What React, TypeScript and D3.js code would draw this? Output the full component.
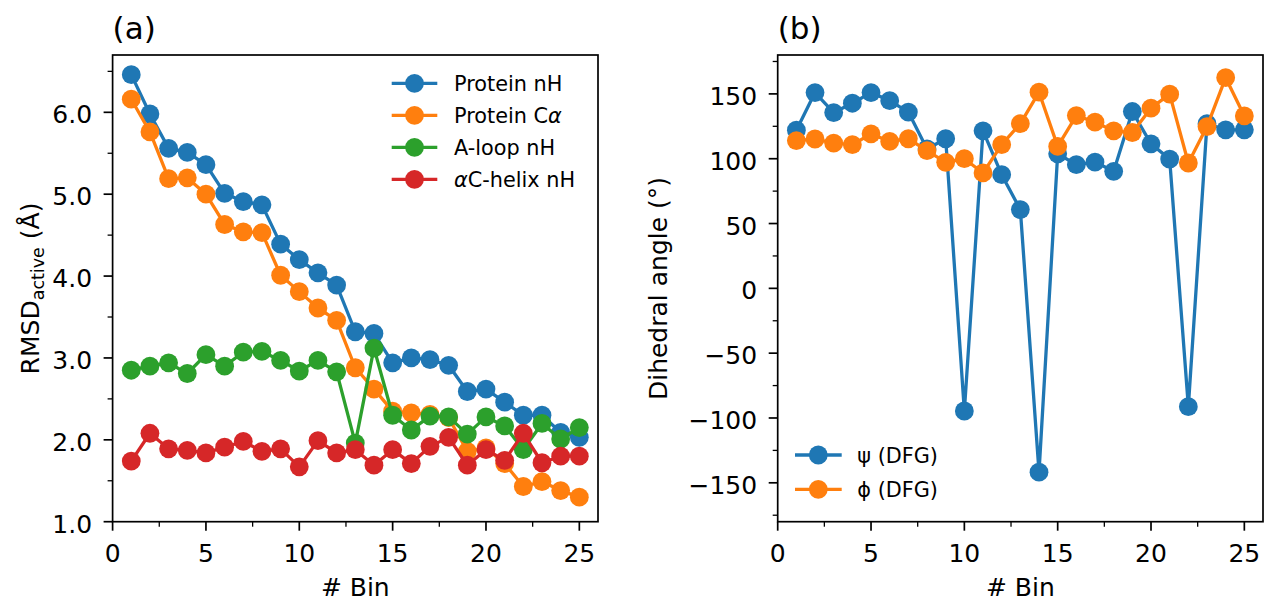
import React from "react";
import * as d3 from "d3";

const bins = [1, 2, 3, 4, 5, 6, 7, 8, 9, 10, 11, 12, 13, 14, 15, 16, 17, 18, 19, 20, 21, 22, 23, 24, 25];

const proteinNH = [6.46, 5.98, 5.56, 5.51, 5.36, 5.01, 4.91, 4.87, 4.39, 4.20, 4.04, 3.89, 3.32, 3.30, 2.94, 3.00, 2.98, 2.91, 2.59, 2.62, 2.46, 2.30, 2.30, 2.09, 2.03];
const proteinCA = [6.16, 5.76, 5.19, 5.20, 5.00, 4.63, 4.54, 4.53, 4.01, 3.81, 3.61, 3.46, 2.88, 2.62, 2.35, 2.33, 2.31, 2.27, 1.86, 1.90, 1.71, 1.43, 1.49, 1.38, 1.30];
const aloopNH = [2.85, 2.90, 2.94, 2.81, 3.04, 2.90, 3.07, 3.08, 2.97, 2.84, 2.97, 2.83, 1.96, 3.12, 2.30, 2.12, 2.29, 2.28, 2.07, 2.28, 2.17, 1.88, 2.20, 2.01, 2.15];
const helixNH = [1.74, 2.08, 1.89, 1.87, 1.84, 1.91, 1.98, 1.86, 1.89, 1.67, 1.99, 1.84, 1.88, 1.69, 1.88, 1.71, 1.92, 2.03, 1.69, 1.88, 1.75, 2.08, 1.72, 1.80, 1.80];

const psiDFG = [122, 151, 135.6, 142.8, 151, 144.8, 136, 107.5, 115.4, -94.6, 121.5, 87.7, 60.8, -141.8, 103.8, 95.4, 97.4, 90.3, 136.4, 111.5, 99.7, -91.3, 127, 122.3, 122.3];
const phiDFG = [114, 115.2, 112, 110.8, 119.2, 113.3, 115.4, 106.2, 97.2, 100, 89, 110.8, 127, 151.3, 109.5, 133.3, 128.2, 121.5, 120.2, 139, 149.8, 96.7, 124.8, 162.5, 133];

const xTicks = [0, 5, 10, 15, 20, 25];
const xMinor = [2.5, 7.5, 12.5, 17.5, 22.5];
const leftYTicks = [1.0, 2.0, 3.0, 4.0, 5.0, 6.0];
const leftYMinor = [1.5, 2.5, 3.5, 4.5, 5.5, 6.5];
const rightYTicks = [-150, -100, -50, 0, 50, 100, 150];
const rightYMinor = [-175, -125, -75, -25, 25, 75, 125, 175];

const C = { blue: "#1f77b4", orange: "#ff7f0e", green: "#2ca02c", red: "#d62728" };
const FONT = "DejaVu Sans";
const TICK_FS = 25;
const LEG_FS = 20.8;
const LW = 3.3;
const MR = 9.4;

type Series = { values: number[]; color: string };

function Panel(props: {
  x0: number; x1: number; y0: number; y1: number;
  xDomain: [number, number]; yDomain: [number, number];
  yTicks: number[]; yMinor: number[]; yFmt: (v: number) => string;
  series: Series[]; title: string;
}) {
  const { x0, x1, y0, y1 } = props;
  const x = d3.scaleLinear().domain(props.xDomain).range([x0, x1]);
  const y = d3.scaleLinear().domain(props.yDomain).range([y1, y0]);
  const line = d3.line<number>().x((_, i) => x(bins[i])).y((v) => y(v));
  return (
    <g>
      {props.series.map((s, si) => (
        <g key={si}>
          <path d={line(s.values) || ""} fill="none" stroke={s.color} strokeWidth={LW} strokeLinejoin="round" />
          {s.values.map((v, i) => (
            <circle key={i} cx={x(bins[i])} cy={y(v)} r={MR} fill={s.color} />
          ))}
        </g>
      ))}
      <rect x={x0} y={y0} width={x1 - x0} height={y1 - y0} fill="none" stroke="#000" strokeWidth={1.7} />
      {xTicks.map((t) => (
        <g key={"xt" + t}>
          <line x1={x(t)} x2={x(t)} y1={y1} y2={y1 + 9} stroke="#000" strokeWidth={1.7} />
          <text x={x(t)} y={y1 + 40} textAnchor="middle" fontFamily={FONT} fontSize={TICK_FS}>{t}</text>
        </g>
      ))}
      {xMinor.map((t) => (
        <line key={"xm" + t} x1={x(t)} x2={x(t)} y1={y1} y2={y1 + 5} stroke="#000" strokeWidth={1.3} />
      ))}
      {props.yTicks.map((t) => (
        <g key={"yt" + t}>
          <line x1={x0 - 9} x2={x0} y1={y(t)} y2={y(t)} stroke="#000" strokeWidth={1.7} />
          <text x={x0 - 20.5} y={y(t) + 11} textAnchor="end" fontFamily={FONT} fontSize={TICK_FS}>{props.yFmt(t)}</text>
        </g>
      ))}
      {props.yMinor.map((t) => (
        <line key={"ym" + t} x1={x0 - 5} x2={x0} y1={y(t)} y2={y(t)} stroke="#000" strokeWidth={1.3} />
      ))}
      <text x={(x0 + x1) / 2} y={596} textAnchor="middle" fontFamily={FONT} fontSize={TICK_FS}># Bin</text>
      <text x={x0} y={39} fontFamily={FONT} fontSize={31}>{props.title}</text>
    </g>
  );
}

function LegendRow(props: { lx0: number; lx1: number; mx: number; tx: number; y: number; color: string; children: React.ReactNode }) {
  return (
    <g>
      <line x1={props.lx0} x2={props.lx1} y1={props.y} y2={props.y} stroke={props.color} strokeWidth={LW} />
      <circle cx={props.mx} cy={props.y} r={MR} fill={props.color} />
      <text x={props.tx} y={props.y + 7.5} fontFamily={FONT} fontSize={LEG_FS}>{props.children}</text>
    </g>
  );
}

export default function App() {
  const fmt1 = d3.format(".1f");
  const fmtInt = (v: number) => (v < 0 ? "\u2212" + Math.abs(v) : String(v));
  const leftLegend = [
    { color: C.blue, label: <>Protein nH</> },
    { color: C.orange, label: <>Protein C<tspan fontStyle="italic">α</tspan></> },
    { color: C.green, label: <>A-loop nH</> },
    { color: C.red, label: <><tspan fontStyle="italic">α</tspan>C-helix nH</> },
  ];
  const leftRows = [83.3, 115.3, 147.3, 179.3];
  const rightLegend = [
    { color: C.blue, label: <>ψ (DFG)</> },
    { color: C.orange, label: <>ϕ (DFG)</> },
  ];
  const rightRows = [455, 489.3];
  return (
    <svg width={1265} height={602} style={{ position: "absolute", left: 0, top: 0, background: "#fff" }}>
      <rect width={1265} height={602} fill="#fff" />
      <Panel
        x0={112.6} x1={598} y0={55} y1={521.7}
        xDomain={[0, 26]} yDomain={[1.0, 6.7]}
        yTicks={leftYTicks} yMinor={leftYMinor} yFmt={fmt1}
        series={[
          { values: proteinNH, color: C.blue },
          { values: proteinCA, color: C.orange },
          { values: aloopNH, color: C.green },
          { values: helixNH, color: C.red },
        ]}
        title="(a)"
      />
      <Panel
        x0={777.7} x1={1263} y0={55} y1={521.7}
        xDomain={[0, 26]} yDomain={[-180, 180]}
        yTicks={rightYTicks} yMinor={rightYMinor} yFmt={fmtInt}
        series={[
          { values: psiDFG, color: C.blue },
          { values: phiDFG, color: C.orange },
        ]}
        title="(b)"
      />
      {leftLegend.map((l, i) => (
        <LegendRow key={i} lx0={391.7} lx1={437.3} mx={414.5} tx={454} y={leftRows[i]} color={l.color}>{l.label}</LegendRow>
      ))}
      {rightLegend.map((l, i) => (
        <LegendRow key={i} lx0={795} lx1={841.7} mx={818.3} tx={857.3} y={rightRows[i]} color={l.color}>{l.label}</LegendRow>
      ))}
      <text transform="translate(38.5,288.5) rotate(-90)" textAnchor="middle" fontFamily={FONT} fontSize={TICK_FS}>
        RMSD<tspan fontSize={17.5} dy={5}>active</tspan><tspan dy={-5}> (Å)</tspan>
      </text>
      <text transform="translate(667,288.5) rotate(-90)" textAnchor="middle" fontFamily={FONT} fontSize={TICK_FS}>
        Dihedral angle (°)
      </text>
    </svg>
  );
}
